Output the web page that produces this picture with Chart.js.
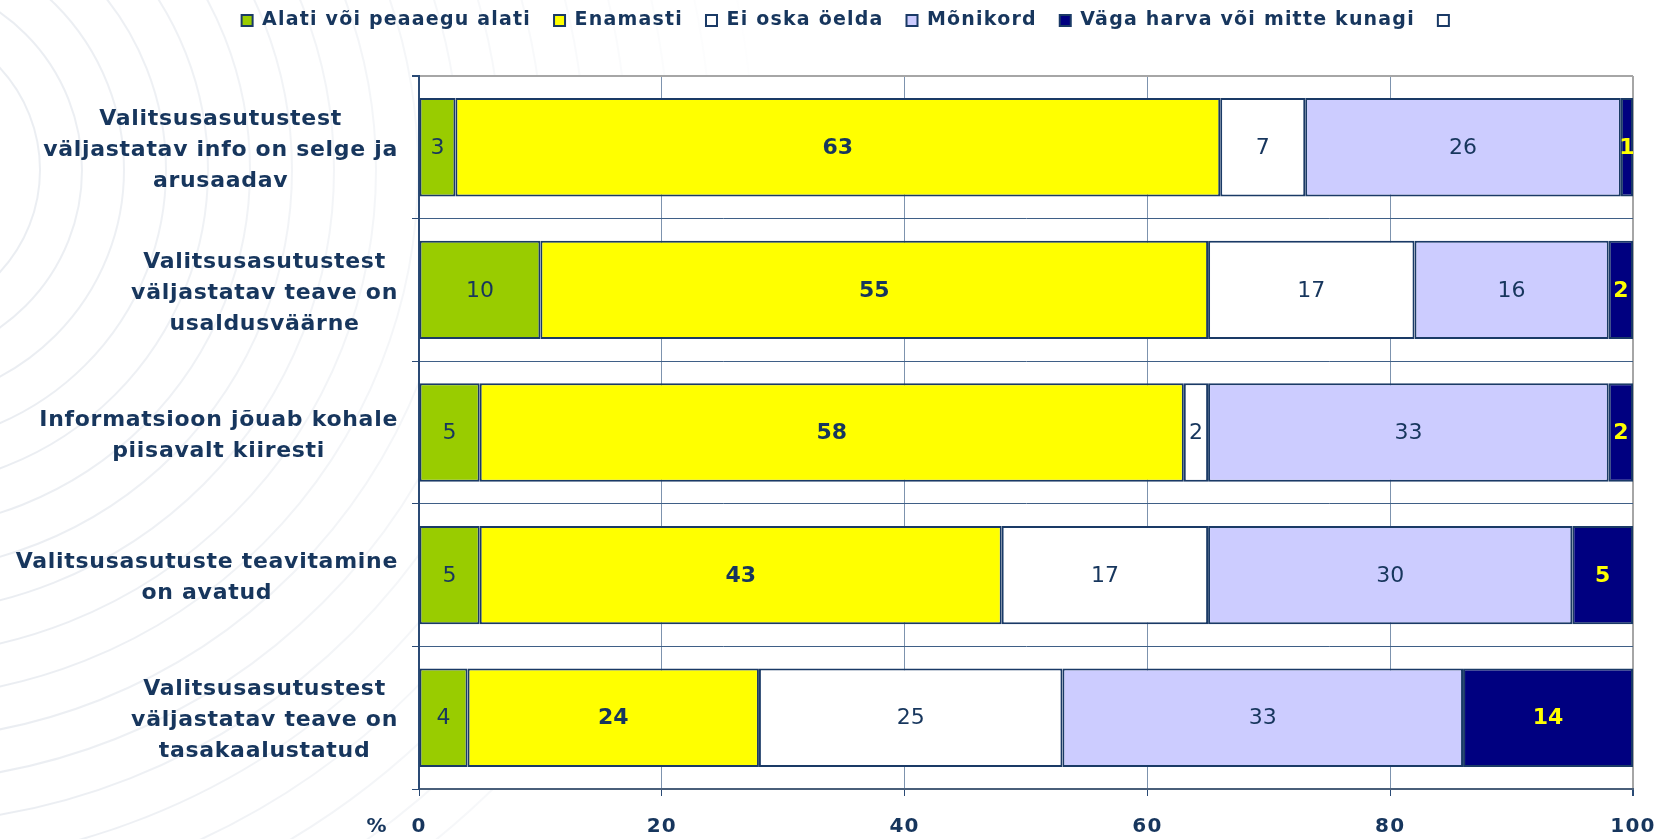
<!DOCTYPE html>
<html>
<head>
<meta charset="utf-8">
<script src="https://cdn.jsdelivr.net/npm/chart.js@4.4.0/dist/chart.umd.min.js"></script>
<style>
  html, body { margin: 0; padding: 0; background: #fff; }
  #chart { display: block; }
</style>
</head>
<body>
<canvas id="chart" width="1661" height="839"></canvas>
<script>
const categories = [
  ['Valitsusasutustest', 'väljastatav info on selge ja', 'arusaadav'],
  ['Valitsusasutustest', 'väljastatav teave on', 'usaldusväärne'],
  ['Informatsioon jõuab kohale', 'piisavalt kiiresti'],
  ['Valitsusasutuste teavitamine', 'on avatud'],
  ['Valitsusasutustest', 'väljastatav teave on', 'tasakaalustatud']
];
const seriesNames = ['Alati või peaaegu alati', 'Enamasti', 'Ei oska öelda', 'Mõnikord', 'Väga harva või mitte kunagi', ''];
const alati = [3, 10, 5, 5, 4];
const enamasti = [63, 55, 58, 43, 24];
const eiOska = [7, 17, 2, 17, 25];
const monikord = [26, 16, 33, 30, 33];
const vagaHarva = [1, 2, 2, 5, 14];
const tuhi = [];
const xTicks = [0, 20, 40, 60, 80, 100];

const seriesColors = ['#99cc00', '#ffff00', '#ffffff', '#ccccff', '#000080', '#ffffff'];
const textColor = '#17365d';
const edgeColor = '#1a3a66';
const tickPad = 19;

// letter spacing used by the legend and axis text
const spacing = {
  id: 'spacing',
  beforeLayout(chart) { chart.ctx.letterSpacing = '1.2px'; },
  beforeDraw(chart) { chart.ctx.letterSpacing = '1.2px'; }
};

// white page with faint circular watermark, plot area kept white
const background = {
  id: 'background',
  beforeDraw(chart) {
    const { ctx, chartArea: a, width, height } = chart;
    ctx.save();
    ctx.fillStyle = '#fff';
    ctx.fillRect(0, 0, width, height);
    const g = ctx.createLinearGradient(0, 0, 800, 0);
    g.addColorStop(0, 'rgba(200, 208, 220, 0.38)');
    g.addColorStop(1, 'rgba(200, 208, 220, 0)');
    ctx.strokeStyle = g;
    ctx.lineWidth = 2;
    for (let r = 150; r <= 900; r += 42) {
      ctx.beginPath();
      ctx.arc(-110, 170, r, 0, Math.PI * 2);
      ctx.stroke();
    }
    ctx.fillStyle = '#fff';
    ctx.fillRect(a.left, a.top, a.right - a.left, a.bottom - a.top);
    ctx.restore();
  }
};

// values written in the middle of each segment
const valueLabels = {
  id: 'valueLabels',
  afterDatasetsDraw(chart) {
    const { ctx } = chart;
    ctx.save();
    ctx.letterSpacing = '0px';
    ctx.textAlign = 'center';
    ctx.textBaseline = 'middle';
    chart.data.datasets.forEach((ds, di) => {
      const meta = chart.getDatasetMeta(di);
      meta.data.forEach((bar, i) => {
        const v = ds.data[i];
        if (!v) return;
        const bold = di === 1 || di === 4;
        ctx.font = (bold ? 'bold ' : '') + '22px "DejaVu Sans"';
        ctx.fillStyle = di === 4 ? '#ffff00' : textColor;
        ctx.fillText(String(v), (bar.x + bar.base) / 2, bar.y + 1);
      });
    });
    ctx.restore();
  }
};

// category names: each block right aligned, lines centred inside it
const categoryLabels = {
  id: 'categoryLabels',
  afterDraw(chart) {
    const { ctx } = chart;
    const xs = chart.scales.x;
    const ys = chart.scales.y;
    ctx.save();
    ctx.font = 'bold 22px "DejaVu Sans"';
    ctx.letterSpacing = '0.7px';
    ctx.fillStyle = textColor;
    ctx.textAlign = 'center';
    ctx.textBaseline = 'middle';
    const right = xs.left - 21;
    categories.forEach((lines, i) => {
      const cy = ys.getPixelForValue(i) + 3;
      const widest = Math.max(...lines.map(t => ctx.measureText(t).width));
      const cx = right - widest / 2;
      lines.forEach((t, k) => {
        ctx.fillText(t, cx, cy + (k - (lines.length - 1) / 2) * 31);
      });
    });
    ctx.font = 'bold 20px "DejaVu Sans"';
    ctx.letterSpacing = '1.2px';
    ctx.fillText('%', xs.left - 42, xs.top + 7 + tickPad + 12);
    ctx.restore();
  }
};

const datasets = [alati, enamasti, eiOska, monikord, vagaHarva, tuhi].map((d, i) => ({
  label: seriesNames[i],
  data: d,
  backgroundColor: seriesColors[i],
  borderColor: edgeColor,
  borderWidth: 2,
  borderSkipped: false,
  barPercentage: 0.69,
  categoryPercentage: 1
}));

new Chart(document.getElementById('chart'), {
  type: 'bar',
  data: { labels: categories, datasets: datasets },
  options: {
    indexAxis: 'y',
    responsive: false,
    animation: false,
    layout: { padding: { left: 67, right: 28, top: -12, bottom: -19 } },
    plugins: {
      tooltip: { enabled: false },
      legend: {
        position: 'top',
        weight: 1000,
        labels: {
          boxWidth: 11,
          boxHeight: 11,
          padding: 23,
          color: textColor,
          font: { family: 'DejaVu Sans', size: 19, weight: 'bold' }
        }
      },
      subtitle: {
        display: true,
        text: '',
        position: 'top',
        weight: 500,
        padding: 0,
        font: { size: 30, lineHeight: 1.2 }
      }
    },
    scales: {
      x: {
        stacked: true,
        min: 0,
        max: 100,
        afterBuildTicks(scale) { scale.ticks = xTicks.map(v => ({ value: v })); },
        afterFit(scale) { scale.paddingLeft = 0; scale.paddingRight = 0; },
        ticks: {
          color: textColor,
          padding: tickPad,
          maxRotation: 0,
          autoSkip: false,
          font: { family: 'DejaVu Sans', size: 20, weight: 'bold' }
        },
        grid: {
          color: c => (c.tick && c.tick.value === 100) ? '#a6a6a6' : (c.tick && c.tick.value === 0 ? '#2a4a75' : '#7d93ae'),
          lineWidth: c => (c.tick && c.tick.value === 100) ? 2 : 1,
          tickLength: 7,
          tickColor: '#2a4a75'
        },
        border: { color: '#4a5f7a', width: 2 }
      },
      y: {
        stacked: true,
        afterFit(scale) { scale.width = 352; },
        ticks: { display: false },
        grid: {
          offset: true,
          color: c => c.index === 0 ? '#a6a6a6' : '#3f5f86',
          lineWidth: c => c.index === 0 ? 2 : 1,
          tickLength: 7,
          tickColor: '#2a4a75'
        },
        border: { color: '#2a4a75', width: 2 }
      }
    }
  },
  plugins: [spacing, background, valueLabels, categoryLabels]
});
</script>
</body>
</html>
